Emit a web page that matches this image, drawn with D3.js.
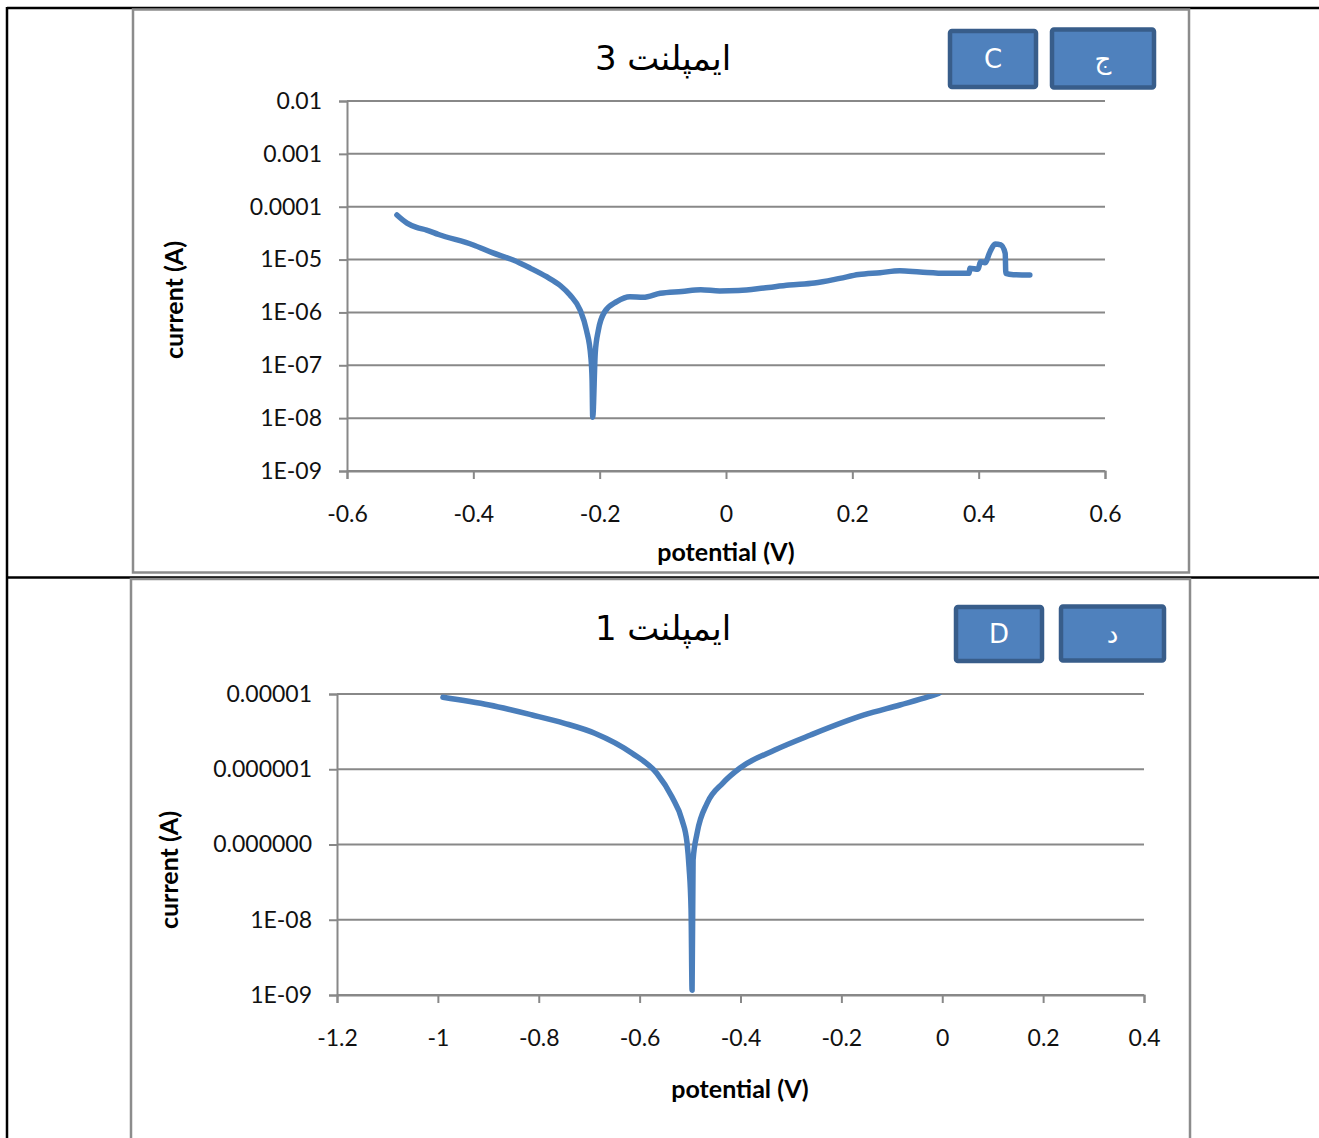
<!DOCTYPE html>
<html>
<head>
    <meta charset="utf-8">
    <title>Implant polarization curves</title>
    <script src="https://d3js.org/d3.v7.min.js"></script>
    <style>
        body { margin: 0; background: #fff; }
        text { font-family: Lato, "Noto Sans", sans-serif; }
        .grid line { stroke: #888; stroke-width: 2; }
        .curve { fill: none; stroke: #4a7ebb; stroke-width: 5.5; stroke-linejoin: round; stroke-linecap: round; }
    </style>
</head>
<body>
<svg id="page" width="1319" height="1138"></svg>
<script>
    // ---- chart 1 : implant 3 ----
    const title1 = 'ايمپلنت 3';
    const boxes1 = ['C', 'ج'];
    const potential1 = [-0.521, -0.505, -0.49, -0.474, -0.455, -0.4, -0.37, -0.337, -0.31, -0.284, -0.262, -0.247, -0.231,
        -0.221, -0.214, -0.212, -0.211,
        -0.207, -0.202, -0.192, -0.173, -0.152, -0.131, -0.104, -0.07, -0.04, -0.01, 0.02, 0.06, 0.1,
        0.14, 0.18, 0.21, 0.244, 0.275, 0.307, 0.349, 0.385, 0.386, 0.399, 0.403, 0.41, 0.418, 0.426,
        0.435, 0.442, 0.443, 0.455, 0.481];
    const current1 = [6.97e-5, 4.9e-5, 4.06e-5, 3.62e-5, 2.98e-5, 1.89e-5, 1.35e-5, 9.8e-6, 6.9e-6, 4.74e-6, 3.2e-6, 2.14e-6, 1.11e-6,
        4.65e-7, 1.45e-7, 5.27e-8, 1.04e-8,
        1.71e-7, 4.65e-7, 1.03e-6, 1.6e-6, 1.99e-6, 1.93e-6, 2.3e-6, 2.5e-6, 2.7e-6, 2.55e-6, 2.6e-6, 2.9e-6, 3.3e-6,
        3.6e-6, 4.4e-6, 5.2e-6, 5.65e-6, 6.15e-6, 5.82e-6, 5.5e-6, 5.5e-6, 6.84e-6, 6.55e-6, 9.1e-6, 8.7e-6, 1.41e-5, 1.97e-5,
        1.89e-5, 1.31e-5, 5.5e-6, 5.18e-6, 5.1e-6];
    const yTicks1 = [1e-2, 1e-3, 1e-4, 1e-5, 1e-6, 1e-7, 1e-8, 1e-9];
    const yLabels1 = ['0.01', '0.001', '0.0001', '1E-05', '1E-06', '1E-07', '1E-08', '1E-09'];
    const xTicks1 = [-0.6, -0.4, -0.2, 0, 0.2, 0.4, 0.6];

    // ---- chart 2 : implant 1 ----
    const title2 = 'ايمپلنت 1';
    const boxes2 = ['D', 'د'];
    const potential2 = [-0.99, -0.898, -0.813, -0.749, -0.689, -0.615, -0.566, -0.536, -0.516, -0.506, -0.502, -0.498, -0.496,
        -0.494, -0.486, -0.466, -0.435, -0.401, -0.332, -0.261, -0.155, -0.084, -0.027, -0.006];
    const current2 = [9.04e-6, 7.14e-6, 5.26e-6, 4.08e-6, 3.01e-6, 1.63e-6, 8.83e-7, 4.3e-7, 2.12e-7, 1.05e-7, 5.02e-8, 1.35e-8, 1.16e-9,
        6.22e-8, 1.42e-7, 3.56e-7, 6.56e-7, 1.04e-6, 1.8e-6, 2.85e-6, 5.26e-6, 7.14e-6, 9.2e-6, 1.03e-5];
    const yTicks2 = [1e-5, 1e-6, 1e-7, 1e-8, 1e-9];
    const yLabels2 = ['0.00001', '0.000001', '0.000000', '1E-08', '1E-09'];
    const xTicks2 = [-1.2, -1, -0.8, -0.6, -0.4, -0.2, 0, 0.2, 0.4];

    const svg = d3.select('#page');

    // table lines of the document
    svg.append('line').attr('x1', 7).attr('x2', 1319).attr('y1', 8).attr('y2', 8).attr('stroke', '#000').attr('stroke-width', 2.5);
    svg.append('line').attr('x1', 7).attr('x2', 7).attr('y1', 7).attr('y2', 1138).attr('stroke', '#000').attr('stroke-width', 2.5);
    svg.append('line').attr('x1', 7).attr('x2', 1319).attr('y1', 577.5).attr('y2', 577.5).attr('stroke', '#000').attr('stroke-width', 2.5);

    function drawChart(cfg) {
        const g = svg.append('g');

        // chart frame
        g.append('rect')
            .attr('x', cfg.frame[0]).attr('y', cfg.frame[1])
            .attr('width', cfg.frame[2]).attr('height', cfg.frame[3])
            .attr('fill', '#fff').attr('stroke', '#8c8c8c').attr('stroke-width', 2.5);

        const x = d3.scaleLinear().domain(cfg.xDomain).range([cfg.left, cfg.right]);
        const y = d3.scaleLog().domain(cfg.yDomain).range([cfg.bottom, cfg.top]);

        // horizontal gridlines
        g.append('g').attr('class', 'grid')
            .selectAll('line').data(cfg.yTicks).enter().append('line')
            .attr('x1', cfg.left).attr('x2', cfg.right)
            .attr('y1', d => y(d)).attr('y2', d => y(d));

        // y axis
        const yAxis = g.append('g')
            .attr('transform', 'translate(' + cfg.left + ',0)')
            .call(d3.axisLeft(y).tickValues(cfg.yTicks)
                .tickFormat((d, i) => cfg.yLabels[i]).tickSize(8).tickPadding(17));
        // x axis (plain hyphen for negatives, like the original)
        const xAxis = g.append('g')
            .attr('transform', 'translate(0,' + cfg.bottom + ')')
            .call(d3.axisBottom(x).tickValues(cfg.xTicks)
                .tickFormat(d => String(d)).tickSize(8).tickPadding(27));
        [yAxis, xAxis].forEach(a => {
            a.select('.domain').attr('stroke', '#888').attr('stroke-width', 2);
            a.selectAll('.tick line').attr('stroke', '#888').attr('stroke-width', 2);
            a.selectAll('.tick text').attr('fill', '#111')
                .style('font-size', '23px').style('font-family', 'Lato, sans-serif');
        });

        // clip the curve to the plot area
        const clipId = 'clip' + cfg.id;
        g.append('clipPath').attr('id', clipId).append('rect')
            .attr('x', cfg.left - 5).attr('y', cfg.top)
            .attr('width', cfg.right - cfg.left + 10).attr('height', cfg.bottom - cfg.top + 5);

        const pts = cfg.potential.map((v, i) => [v, cfg.current[i]]);
        const line = d3.line()
            .x(d => x(d[0])).y(d => y(d[1]))
            .curve(d3.curveMonotoneX);
        g.append('path').attr('class', 'curve')
            .attr('clip-path', 'url(#' + clipId + ')')
            .attr('d', line(pts));

        // title
        g.append('text')
            .attr('x', cfg.titlePos[0]).attr('y', cfg.titlePos[1])
            .attr('text-anchor', 'middle')
            .style('font-family', '"DejaVu Sans", sans-serif')
            .style('font-size', '34px').attr('fill', '#000')
            .text(cfg.title);

        // axis titles
        g.append('text')
            .attr('transform', 'translate(' + cfg.yLabelPos[0] + ',' + cfg.yLabelPos[1] + ') rotate(-90)')
            .attr('text-anchor', 'middle')
            .style('font-size', '25px').style('font-weight', 'bold')
            .text('current (A)');
        g.append('text')
            .attr('x', cfg.xLabelPos[0]).attr('y', cfg.xLabelPos[1])
            .attr('text-anchor', 'middle')
            .style('font-size', '25px').style('font-weight', 'bold')
            .text('potential (V)');

        // blue label boxes
        cfg.boxes.forEach((b, i) => {
            const r = cfg.boxRects[i];
            g.append('rect')
                .attr('x', r[0]).attr('y', r[1]).attr('width', r[2]).attr('height', r[3])
                .attr('rx', 2)
                .attr('fill', '#4f81bd').attr('stroke', '#385d8a').attr('stroke-width', 4.5);
            g.append('text')
                .attr('x', r[0] + r[2] / 2).attr('y', r[1] + r[3] / 2 + 9)
                .attr('text-anchor', 'middle')
                .style('font-size', '26px').attr('fill', '#fff')
                .style('font-family', '"DejaVu Sans", sans-serif')
                .text(b);
        });
    }

    drawChart({
        id: 1, frame: [133, 9.5, 1056, 563],
        xDomain: [-0.6, 0.6], yDomain: [1e-9, 1e-2],
        left: 347, right: 1105, top: 101, bottom: 471,
        yTicks: yTicks1, yLabels: yLabels1, xTicks: xTicks1,
        potential: potential1, current: current1,
        title: title1, titlePos: [663, 70],
        yLabelPos: [183, 300], xLabelPos: [726, 561],
        boxes: boxes1, boxRects: [[950, 31, 86, 56], [1052, 29.5, 102, 58]]
    });

    drawChart({
        id: 2, frame: [131, 579, 1059, 565],
        xDomain: [-1.2, 0.4], yDomain: [1e-9, 1e-5],
        left: 337, right: 1144, top: 694, bottom: 995,
        yTicks: yTicks2, yLabels: yLabels2, xTicks: xTicks2,
        potential: potential2, current: current2,
        title: title2, titlePos: [663, 640],
        yLabelPos: [178, 870], xLabelPos: [740, 1098],
        boxes: boxes2, boxRects: [[956, 607, 86, 54], [1061, 606.5, 103, 54]]
    });
</script>
</body>
</html>
